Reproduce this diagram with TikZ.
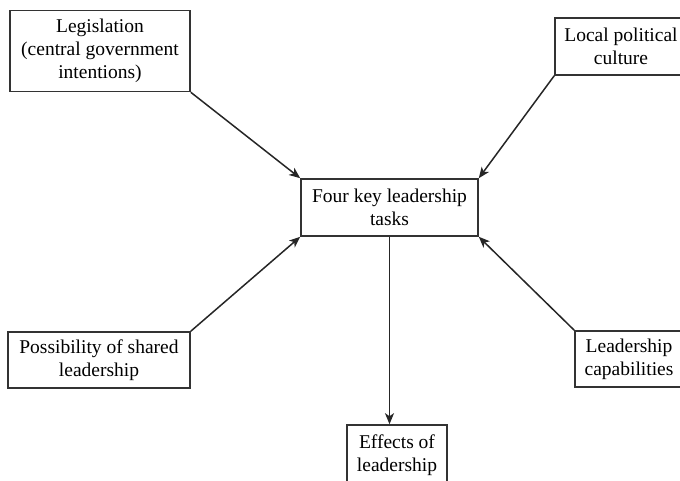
\documentclass[tikz,border=0pt]{standalone}
\usepackage{fontspec}
\setmainfont{Liberation Serif}
\usetikzlibrary{arrows.meta}
\colorlet{BoxBorder}{black!80}

\begin{document}
\begin{tikzpicture}[x=1pt, y=-1pt,
    factor/.style={draw=BoxBorder, line width=1.6pt, inner sep=0pt, align=center,
        font=\fontsize{19.5}{23}\selectfont},
    link/.style={draw=black!85, line width=1.5pt, -{Stealth[length=11pt, width=9pt, inset=3pt]}}]

    \useasboundingbox (0, 0) rectangle (680, 481);
    \clip (0, 0) rectangle (680, 481);

    % ---------- Central task box
    \node[factor, minimum width=177, minimum height=57] (tasks) at (389.5, 207.5)
        {Four key leadership\\tasks};

    % ---------- Influencing factors
    \node[factor, minimum width=180, minimum height=81] (legis) at (100, 51)
        {Legislation\\(central government\\intentions)};
    \node[factor, minimum width=132, minimum height=57] (local) at (621, 46.5)
        {Local political\\culture};
    \node[factor, minimum width=182, minimum height=56] (shared) at (99, 360)
        {Possibility of shared\\leadership};
    \node[factor, minimum width=108, minimum height=56] (capab) at (629, 359)
        {Leadership\\capabilities};

    % ---------- Outcome
    \node[factor, minimum width=100, minimum height=60] (effects) at (397, 455)
        {Effects of\\leadership};

    % Show arrows
    \draw[link] (legis.south east) -- (tasks.north west);
    \draw[link] (local.south west) -- (tasks.north east);
    \draw[link] (shared.north east) -- (tasks.south west);
    \draw[link] (capab.north west) -- (tasks.south east);
    \draw[link] (tasks.south) -- (tasks.south |- effects.north);

\end{tikzpicture}
\end{document}
